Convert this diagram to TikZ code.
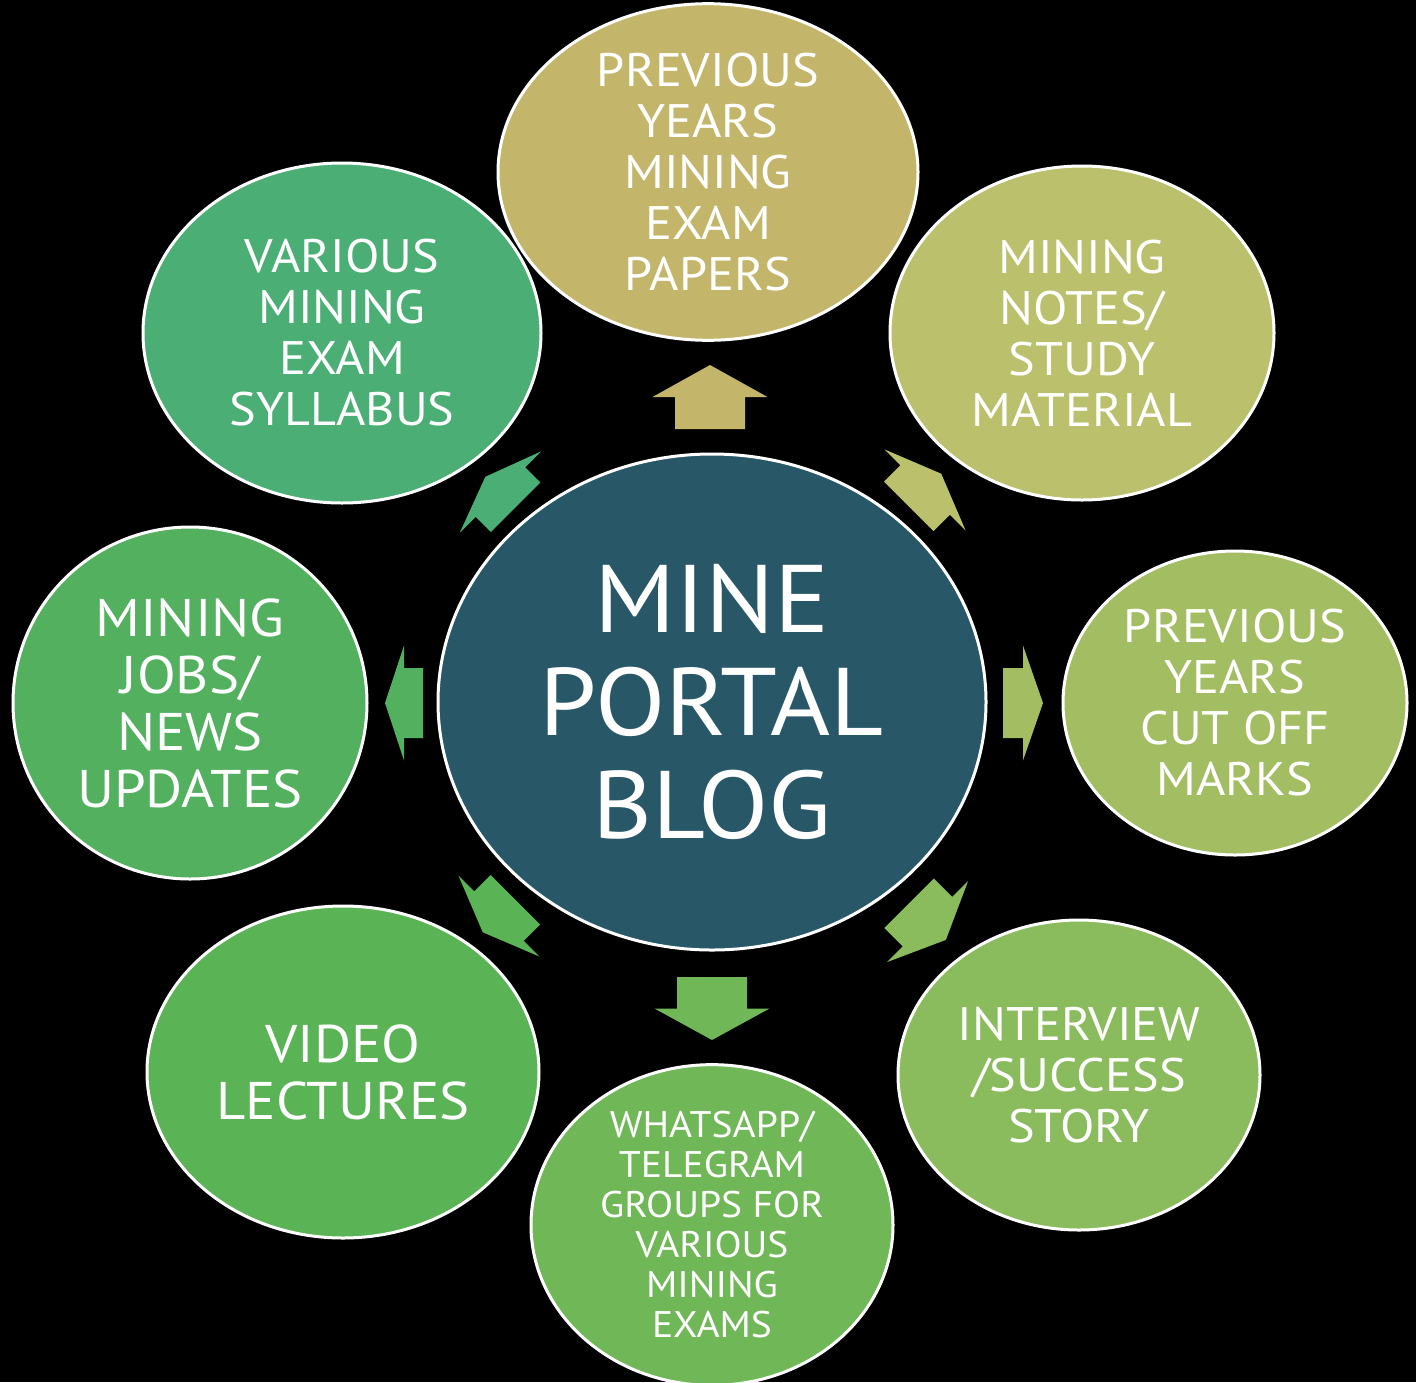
\documentclass[tikz,border=0pt]{standalone}
\usepackage{fontspec}
\setmainfont[FakeStretch=1.07]{PT Sans}
\usetikzlibrary{shapes.geometric}
\definecolor{cCenter}{HTML}{285768}
\definecolor{cTop}{HTML}{C3B66B}
\definecolor{cTR}{HTML}{BAC06C}
\definecolor{cR}{HTML}{A3BD63}
\definecolor{cBR}{HTML}{8ABB5D}
\definecolor{cB}{HTML}{70B857}
\definecolor{cBL}{HTML}{5AB355}
\definecolor{cL}{HTML}{52B05F}
\definecolor{cTL}{HTML}{4BAE74}
% block arrow: colour, centre, angle, half length
\newcommand{\blockarrow}[4]{%
  \fill[#1, shift={#2}, rotate=#3]
    (-#4,-35) -- (0,-35) -- (0,-57.5) -- (#4,0) -- (0,57.5) -- (0,35) -- (-#4,35) -- cycle;}
\begin{document}
\begin{tikzpicture}[x=1pt,y=-1pt,
  bub/.style={ellipse, draw=white, line width=3pt, inner sep=0pt, text=white, align=center},
  txtm/.style={font=\fontsize{47}{51}\selectfont},
  txtl/.style={font=\fontsize{53}{57}\selectfont},
  txts/.style={font=\fontsize{37}{40}\selectfont},
  txtc/.style={font=\fontsize{96}{103}\selectfont},
]
\fill[black] (0,0) rectangle (1416,1382);
\useasboundingbox (0,0) rectangle (1416,1382);

\node[bub, txtc, fill=cCenter, minimum width=548pt, minimum height=496pt] (center) at (712,702) {MINE\\PORTAL\\BLOG};

\node[bub, txtm, fill=cTop, minimum width=420pt, minimum height=324pt] (top) at (708,172) {PREVIOUS\\YEARS\\MINING\\EXAM\\PAPERS};
\node[bub, txtm, fill=cTR, minimum width=384pt, minimum height=334pt] (tr) at (1082,333) {MINING\\NOTES/\\STUDY\\MATERIAL};
\node[bub, txtm, fill=cR, minimum width=344pt, minimum height=304pt] (right) at (1235,703) {PREVIOUS\\YEARS\\CUT OFF\\MARKS};
\node[bub, txtm, fill=cBR, minimum width=362pt, minimum height=310pt] (br) at (1079,1075) {INTERVIEW\\/SUCCESS\\STORY};
\node[bub, txts, fill=cB, minimum width=362pt, minimum height=312pt] (bottom) at (712,1225) {WHATSAPP/\\TELEGRAM\\GROUPS FOR\\VARIOUS\\MINING\\EXAMS};
\node[bub, txtl, fill=cBL, minimum width=392pt, minimum height=332pt] (bl) at (343,1072) {VIDEO\\LECTURES};
\node[bub, txtl, fill=cL, minimum width=354pt, minimum height=352pt] (left) at (190,703) {MINING\\JOBS/\\NEWS\\UPDATES};
\node[bub, txtm, fill=cTL, minimum width=398pt, minimum height=340pt] (tl) at (342,333) {VARIOUS\\MINING\\EXAM\\SYLLABUS};

\blockarrow{cTop}{(710,397)}{90}{32}
\blockarrow{cTR}{(925,490)}{45}{23}
\blockarrow{cR}{(1023,703)}{0}{20}
\blockarrow{cBR}{(927.5,921.5)}{-45}{26}
\blockarrow{cB}{(712,1008.5)}{-90}{31.5}
\blockarrow{cBL}{(499,916)}{-135}{23}
\blockarrow{cL}{(404,703)}{180}{19}
\blockarrow{cTL}{(500.5,492)}{135}{21.5}
\end{tikzpicture}
\end{document}
